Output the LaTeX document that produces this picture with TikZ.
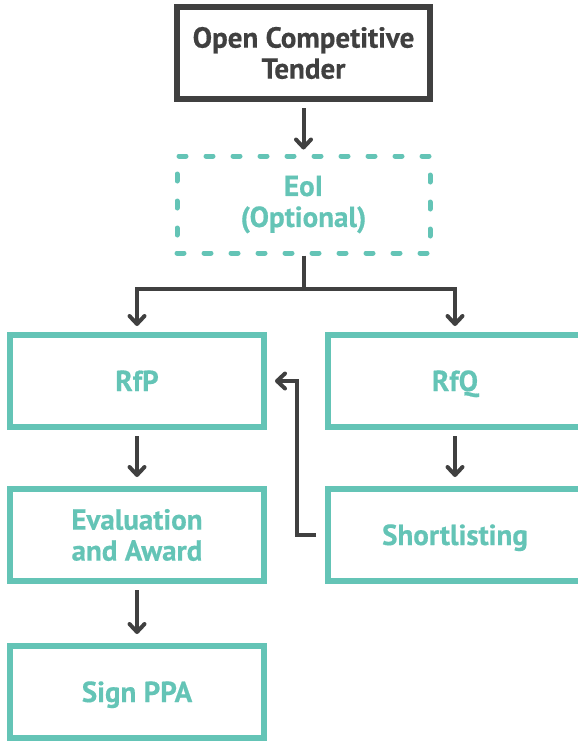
\documentclass[tikz,border=0pt]{standalone}
\usepackage{fontspec}
\setmainfont{PT Sans}[BoldFeatures={FakeBold=0.5}]
\usetikzlibrary{arrows.meta}
\definecolor{ink}{HTML}{404040}
\definecolor{teal}{HTML}{64C4B6}
\tikzset{
  box/.style={draw=teal, line width=6pt, minimum width=254pt, minimum height=92pt,
    inner sep=0pt, align=center, text=teal,
    font=\fontsize{29}{31}\selectfont\bfseries},
  oneline/.style={text height=20pt, text depth=0pt},
  topbox/.style={box, draw=ink, text=ink, minimum width=253pt},
  optbox/.style={box, line width=5pt, dash pattern=on 7pt off 20pt, line cap=round,
    minimum width=253pt, minimum height=97pt},
  arr/.style={draw=ink, line width=4pt,
    -{Straight Barb[length=8pt,width=15pt,line cap=round,line join=round]}},
  link/.style={draw=ink, line width=4pt}
}
\begin{document}
\begin{tikzpicture}[x=1pt,y=-1pt]
\useasboundingbox (0,0) rectangle (578,742);
\clip (0,0) rectangle (578,742);
% boxes
\node[topbox] (oct) at (303.5,53) {Open Competitive\\Tender};
\node[optbox] (eoi) at (303.5,204.5) {EoI\\(Optional)};
\node[box, oneline] (rfp) at (137,381) {RfP};
\node[box, oneline] (rfq) at (455,381) {RfQ};
\node[box] (eval) at (137,535) {Evaluation\\and Award};
\node[box, oneline] (short) at (455,535) {Shortlisting};
\node[box, oneline] (ppa) at (137,692) {Sign PPA};
% connectors
\draw[arr, shorten <=6pt, shorten >=4pt] (oct.south) -- (eoi.north);
\draw[link] (eoi.south) -- ++(0,33) coordinate (split);
\draw[arr, shorten >=6pt] (split) -| (rfp.north);
\draw[arr, shorten >=6pt] (split) -| (rfq.north);
\draw[arr, shorten <=6pt, shorten >=9pt] (rfp.south) -- (eval.north);
\draw[arr, shorten <=6pt, shorten >=9pt] (eval.south) -- (ppa.north);
\draw[arr, shorten <=6pt, shorten >=9pt] (rfq.south) -- (short.north);
\draw[arr, shorten <=9pt, shorten >=8pt] (short.west) -- ++(-28,0) |- (rfp.east);
\end{tikzpicture}
\end{document}
